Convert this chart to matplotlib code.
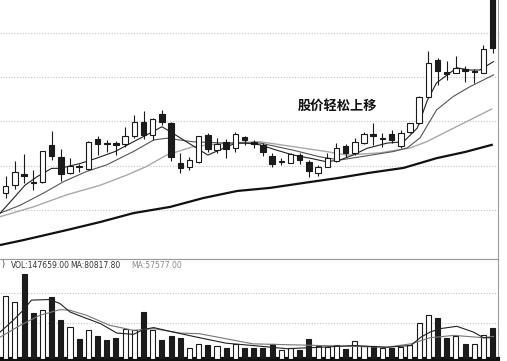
import matplotlib
matplotlib.use("Agg")
import matplotlib.pyplot as plt
import numpy as np

plt.rcParams["font.family"] = ["Noto Sans CJK SC", "DejaVu Sans"]

# daily candles (price units)
opens = [10.38, 10.56, 10.82, 10.63, 10.63, 11.46, 11.20, 10.83, 11.00, 10.93,
         11.60, 11.51, 11.52, 11.48, 11.66, 11.99, 11.69, 12.17, 11.96, 11.05,
         10.98, 11.09, 11.69, 11.35, 11.53, 11.39, 11.64, 11.54, 11.47, 11.23,
         11.08, 11.07, 11.24, 11.09, 10.84, 10.98, 11.11, 11.45, 11.28, 11.52,
         11.72, 11.61, 11.71, 11.45, 11.75, 11.96, 12.56, 13.39, 13.12, 13.10,
         13.18, 13.12, 13.10, 14.92]
closes = [10.54, 10.86, 10.76, 10.61, 11.33, 11.23, 10.81, 10.99, 10.96, 11.54,
          11.48, 11.50, 11.47, 11.66, 11.99, 11.69, 12.05, 11.99, 11.20, 10.94,
          11.13, 11.66, 11.37, 11.48, 11.37, 11.71, 11.58, 11.48, 11.32, 11.04,
          11.10, 11.26, 11.13, 10.89, 10.98, 11.17, 11.41, 11.28, 11.54, 11.71,
          11.66, 11.62, 11.58, 11.73, 11.96, 12.56, 13.31, 13.14, 13.06, 13.21,
          13.13, 13.14, 13.63, 13.65]
highs = [10.77, 11.11, 11.26, 10.90, 11.33, 11.78, 11.38, 11.18, 11.04, 11.56,
         11.66, 11.58, 11.56, 11.88, 12.14, 12.24, 12.07, 12.26, 11.99, 11.29,
         11.20, 11.67, 11.73, 11.62, 11.60, 11.77, 11.66, 11.58, 11.51, 11.28,
         11.17, 11.29, 11.28, 11.13, 11.02, 11.29, 11.51, 11.49, 11.62, 11.77,
         11.96, 11.73, 11.81, 11.81, 11.97, 12.57, 13.59, 13.42, 13.36, 13.48,
         13.25, 13.18, 13.73, 14.92]
lows = [10.27, 10.47, 10.61, 10.45, 10.61, 11.13, 10.66, 10.81, 10.86, 10.90,
        11.24, 11.32, 11.24, 11.43, 11.62, 11.60, 11.58, 11.92, 11.11, 10.84,
        10.90, 11.06, 11.32, 11.28, 11.17, 11.32, 11.47, 11.39, 11.22, 10.96,
        11.02, 11.05, 11.04, 10.74, 10.77, 10.96, 11.09, 11.20, 11.24, 11.49,
        11.47, 11.43, 11.51, 11.39, 11.73, 11.94, 12.55, 12.82, 12.94, 13.09,
        12.90, 12.86, 13.09, 13.54]
volumes = [297000, 267000, 401000, 217000, 233000, 293000, 182000, 150000, 95000, 138000,
           108000, 90000, 98000, 143000, 135000, 222000, 138000, 90000, 108000, 98000,
           52000, 71000, 67000, 63000, 50000, 71000, 50000, 50000, 50000, 68000,
           43000, 50000, 44000, 95000, 59000, 55000, 67000, 48000, 84000, 63000,
           63000, 52000, 52000, 55000, 67000, 171000, 206000, 193000, 100000, 106000,
           68000, 68000, 111000, 147659]

# moving averages, sampled along the drawn lines (day index, value)
ma5_x = [-0.6, 1.0, 2.1, 3.4, 5.0, 5.9, 8.1, 9.9, 11.9, 13.9, 15.3, 17.0, 17.9, 22.0,
         25.0, 26.2, 27.7, 29.5, 31.3, 33.1, 34.9, 36.4, 37.8, 39.3, 41.5, 43.3,
         44.8, 45.9, 46.9, 49.1, 50.5, 51.6, 53.1]
ma5_y = [9.93, 10.30, 10.56, 10.75, 10.94, 10.94, 11.05, 11.17, 11.32, 11.54, 11.69,
         11.88, 11.77, 11.24, 11.51, 11.51, 11.47, 11.35, 11.24, 11.17, 11.09, 11.13,
         11.24, 11.39, 11.51, 11.54, 11.85, 12.48, 12.87, 13.21, 13.16, 13.16, 13.35]
ma10_x = [-0.6, 1.6, 4.1, 6.3, 8.8, 11.0, 13.9, 16.1, 17.5, 20.4, 24.0, 27.7, 31.3,
          34.2, 36.4, 38.6, 42.2, 43.7, 45.1, 46.9, 48.7, 50.5, 53.1]
ma10_y = [9.93, 10.11, 10.38, 10.64, 10.87, 11.02, 11.32, 11.58, 11.62, 11.54, 11.51,
          11.51, 11.35, 11.20, 11.13, 11.20, 11.32, 11.40, 11.63, 12.26, 12.56, 12.78,
          13.05]
ma20_x = [-0.6, 3.0, 6.6, 10.3, 13.2, 15.3, 17.5, 20.4, 24.0, 27.7, 31.3, 34.9, 37.1,
          40.7, 44.0, 45.8, 48.0, 50.5, 52.9]
ma20_y = [9.85, 10.07, 10.34, 10.56, 10.79, 10.98, 11.24, 11.43, 11.51, 11.54, 11.43,
          11.32, 11.24, 11.29, 11.40, 11.54, 11.77, 12.03, 12.28]
ma60_x = [-0.6, 1.9, 6.7, 10.3, 13.9, 17.9, 21.5, 25.2, 28.8, 32.4, 36.1, 39.6, 43.3,
          46.9, 50.0, 52.9]
ma60_y = [9.21, 9.32, 9.55, 9.73, 9.93, 10.07, 10.27, 10.43, 10.50, 10.61, 10.72,
          10.84, 10.95, 11.17, 11.31, 11.47]

vma5_x = [-0.6, 0.8, 1.9, 2.8, 4.8, 5.9, 7.0, 8.4, 10.3, 12.1, 13.9, 15.0, 16.1, 18.2,
          21.1, 24.0, 26.9, 30.6, 34.3, 37.9, 41.5, 44.1, 45.2, 46.2, 47.3, 49.1,
          50.9, 52.0, 53.1]
vma5_y = [127000, 182000, 230000, 278000, 281000, 262000, 222000, 198000, 167000,
          122000, 116000, 139000, 148000, 127000, 100000, 74000, 63000, 48000, 55000,
          63000, 55000, 63000, 103000, 127000, 143000, 154000, 127000, 100000, 100000]
vma10_x = [-0.6, 1.6, 3.7, 5.9, 7.0, 8.8, 11.3, 13.9, 16.1, 19.0, 21.1, 24.0, 26.9,
           34.3, 41.5, 44.1, 46.2, 48.8, 52.0, 53.1]
vma10_y = [103000, 159000, 206000, 233000, 230000, 206000, 159000, 135000, 143000,
           122000, 119000, 95000, 71000, 63000, 55000, 71000, 100000, 111000, 100000,
           106000]

price_grid = [10, 11, 12, 13, 14]
vol_grid = [172000, 311000]
label = "股价轻松上移"

n = len(opens)
idx = np.arange(n)
o = np.array(opens)
c = np.array(closes)
up = c >= o

fig = plt.figure(figsize=(5.07, 3.61), dpi=100)
ax = fig.add_axes([0.0, 0.2825, 0.982, 0.7175])
axv = fig.add_axes([0.0, 0.006, 0.982, 0.2765])

for a in (ax, axv):
    a.set_xlim(-0.62, 53.57)
    a.set_xticks([])
    a.tick_params(left=False, labelleft=False)
    a.spines["left"].set_visible(False)
    a.spines["right"].set_color("#9a9a9a")
    a.spines["right"].set_linewidth(0.8)

# price panel
ax.set_ylim(8.894, 14.74)
ax.spines["top"].set_visible(False)
ax.spines["bottom"].set_color("#9a9a9a")
ax.spines["bottom"].set_linewidth(0.8)
ax.set_yticks(price_grid)
ax.grid(axis="y", color="#c4c4c4", linestyle=(0, (1, 1.5)), linewidth=0.8)

ax.plot(ma60_x, ma60_y, color="#111111", lw=1.6, zorder=2)
ax.plot(ma20_x, ma20_y, color="#a8a8a8", lw=1.0, zorder=2)
ax.plot(ma10_x, ma10_y, color="#555555", lw=0.8, zorder=2)
ax.plot(ma5_x, ma5_y, color="#222222", lw=0.8, zorder=2)

ax.vlines(idx, lows, highs, color="#1a1a1a", lw=0.8, zorder=3)
body_h = np.maximum(np.abs(c - o), 0.02)
ax.bar(idx, body_h, bottom=np.minimum(o, c), width=0.6,
       color=np.where(up, "white", "#1c1c1c"), edgecolor="#1a1a1a",
       linewidth=0.8, zorder=4)

ax.text(36.1, 12.35, label, ha="center", va="center", fontsize=9.5,
        fontweight="bold", color="#111111")

# volume panel
axv.set_ylim(0, 472700)
axv.spines["top"].set_color("#9a9a9a")
axv.spines["top"].set_linewidth(0.8)
axv.spines["bottom"].set_color("#111111")
axv.spines["bottom"].set_linewidth(3)
axv.set_yticks(vol_grid)
axv.grid(axis="y", color="#c4c4c4", linestyle=(0, (1, 1.5)), linewidth=0.8)

axv.bar(idx, volumes, width=0.55, color=np.where(up, "white", "#1c1c1c"),
        edgecolor="#1a1a1a", linewidth=0.8, zorder=3)
axv.plot(vma10_x, vma10_y, color="#777777", lw=0.8, zorder=4)
axv.plot(vma5_x, vma5_y, color="#222222", lw=0.8, zorder=4)

fig.text(1 / 507, 1 - 265 / 361, ")", fontsize=5.5, color="#333333", va="center",
         family="DejaVu Sans")
fig.text(11 / 507, 1 - 265 / 361, "VOL:147659.00", fontsize=5.5, color="#333333",
         va="center", family="DejaVu Sans")
fig.text(70 / 507, 1 - 265 / 361, "MA:80817.80", fontsize=5.5, color="#333333",
         va="center", family="DejaVu Sans")
fig.text(131 / 507, 1 - 265 / 361, "MA:57577.00", fontsize=5.5, color="#888888",
         va="center", family="DejaVu Sans")

fig.savefig("out.png", dpi=100)
